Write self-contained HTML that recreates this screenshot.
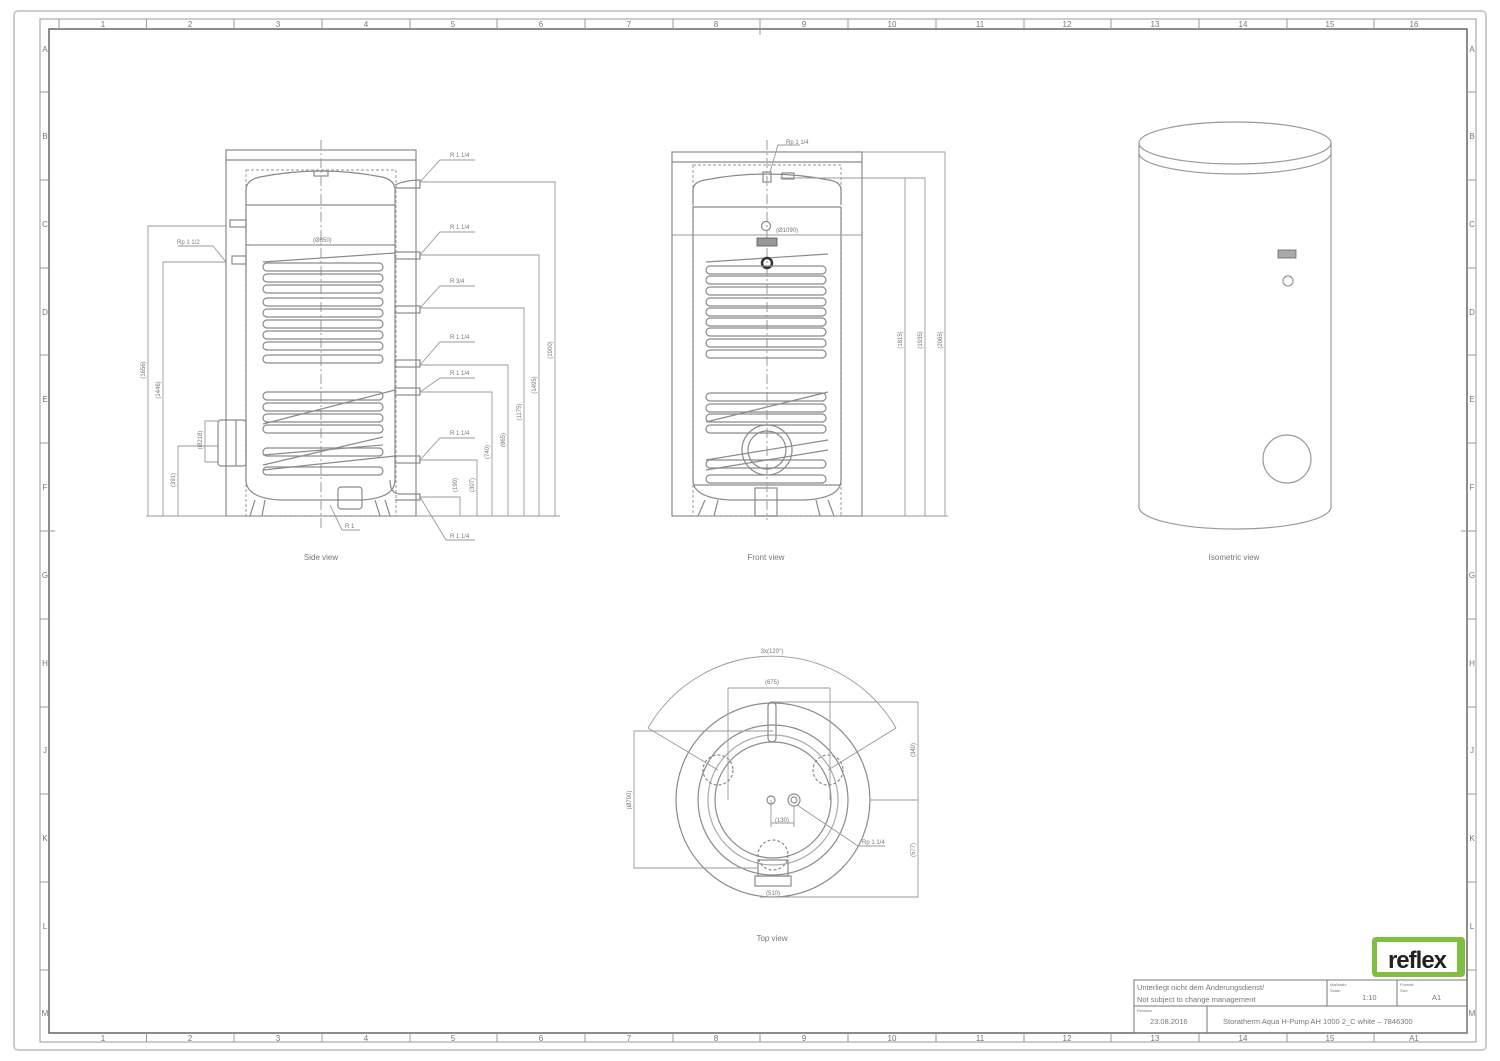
<!DOCTYPE html>
<html><head><meta charset="utf-8"><style>
html,body{margin:0;padding:0;background:#fff}
svg{display:block}
text{font-family:"Liberation Sans",sans-serif;fill:#777}
</style></head><body>
<svg width="1500" height="1061" viewBox="0 0 1500 1061" xmlns="http://www.w3.org/2000/svg">
<defs>
<g id="coil"><rect x="0" y="0" width="120" height="8" rx="4" fill="none" stroke="#8a8a8a" stroke-width="1.2"/></g>
</defs>
<!-- frame -->
<rect x="14" y="11" width="1472" height="1039" rx="4" fill="none" stroke="#ccc" stroke-width="2"/>
<rect x="40" y="19" width="1436" height="1023" fill="none" stroke="#999" stroke-width="1"/>
<rect x="49" y="29" width="1418" height="1004" fill="none" stroke="#666" stroke-width="1.5"/>
<g stroke="#999" stroke-width="1">
<line x1="59" y1="19" x2="59" y2="29"/><line x1="146.5" y1="19" x2="146.5" y2="29"/><line x1="234" y1="19" x2="234" y2="29"/><line x1="322" y1="19" x2="322" y2="29"/><line x1="410" y1="19" x2="410" y2="29"/><line x1="497" y1="19" x2="497" y2="29"/><line x1="585" y1="19" x2="585" y2="29"/><line x1="673" y1="19" x2="673" y2="29"/><line x1="760" y1="19" x2="760" y2="29"/><line x1="848" y1="19" x2="848" y2="29"/><line x1="936" y1="19" x2="936" y2="29"/><line x1="1024" y1="19" x2="1024" y2="29"/><line x1="1111" y1="19" x2="1111" y2="29"/><line x1="1199" y1="19" x2="1199" y2="29"/><line x1="1287" y1="19" x2="1287" y2="29"/><line x1="1374" y1="19" x2="1374" y2="29"/>
<line x1="146.5" y1="1033" x2="146.5" y2="1042"/><line x1="234" y1="1033" x2="234" y2="1042"/><line x1="322" y1="1033" x2="322" y2="1042"/><line x1="410" y1="1033" x2="410" y2="1042"/><line x1="497" y1="1033" x2="497" y2="1042"/><line x1="585" y1="1033" x2="585" y2="1042"/><line x1="673" y1="1033" x2="673" y2="1042"/><line x1="760" y1="1033" x2="760" y2="1042"/><line x1="848" y1="1033" x2="848" y2="1042"/><line x1="936" y1="1033" x2="936" y2="1042"/><line x1="1024" y1="1033" x2="1024" y2="1042"/><line x1="1111" y1="1033" x2="1111" y2="1042"/><line x1="1199" y1="1033" x2="1199" y2="1042"/><line x1="1287" y1="1033" x2="1287" y2="1042"/><line x1="1374" y1="1033" x2="1374" y2="1042"/>
<line x1="40" y1="92" x2="49" y2="92"/><line x1="40" y1="180" x2="49" y2="180"/><line x1="40" y1="268" x2="49" y2="268"/><line x1="40" y1="355" x2="49" y2="355"/><line x1="40" y1="443" x2="49" y2="443"/><line x1="40" y1="531" x2="55" y2="531"/><line x1="40" y1="619" x2="49" y2="619"/><line x1="40" y1="707" x2="49" y2="707"/><line x1="40" y1="794" x2="49" y2="794"/><line x1="40" y1="882" x2="49" y2="882"/><line x1="40" y1="970" x2="49" y2="970"/>
<line x1="1467" y1="92" x2="1476" y2="92"/><line x1="1467" y1="180" x2="1476" y2="180"/><line x1="1467" y1="268" x2="1476" y2="268"/><line x1="1467" y1="355" x2="1476" y2="355"/><line x1="1467" y1="443" x2="1476" y2="443"/><line x1="1461" y1="531" x2="1476" y2="531"/><line x1="1467" y1="619" x2="1476" y2="619"/><line x1="1467" y1="707" x2="1476" y2="707"/><line x1="1467" y1="794" x2="1476" y2="794"/><line x1="1467" y1="882" x2="1476" y2="882"/><line x1="1467" y1="970" x2="1476" y2="970"/>
<line x1="760" y1="19" x2="760" y2="35"/>
</g>
<g font-size="8" text-anchor="middle">
<text x="103" y="27">1</text><text x="190" y="27">2</text><text x="278" y="27">3</text><text x="366" y="27">4</text><text x="453" y="27">5</text><text x="541" y="27">6</text><text x="629" y="27">7</text><text x="716" y="27">8</text><text x="804" y="27">9</text><text x="892" y="27">10</text><text x="980" y="27">11</text><text x="1067" y="27">12</text><text x="1155" y="27">13</text><text x="1243" y="27">14</text><text x="1330" y="27">15</text><text x="1414" y="27">16</text>
<text x="103" y="1041">1</text><text x="190" y="1041">2</text><text x="278" y="1041">3</text><text x="366" y="1041">4</text><text x="453" y="1041">5</text><text x="541" y="1041">6</text><text x="629" y="1041">7</text><text x="716" y="1041">8</text><text x="804" y="1041">9</text><text x="892" y="1041">10</text><text x="980" y="1041">11</text><text x="1067" y="1041">12</text><text x="1155" y="1041">13</text><text x="1243" y="1041">14</text><text x="1330" y="1041">15</text><text x="1414" y="1041">A1</text>
<text x="45" y="52">A</text><text x="45" y="139">B</text><text x="45" y="227">C</text><text x="45" y="315">D</text><text x="45" y="402">E</text><text x="45" y="490">F</text><text x="45" y="578">G</text><text x="45" y="666">H</text><text x="45" y="753">J</text><text x="45" y="841">K</text><text x="45" y="929">L</text><text x="45" y="1016">M</text>
<text x="1472" y="52">A</text><text x="1472" y="139">B</text><text x="1472" y="227">C</text><text x="1472" y="315">D</text><text x="1472" y="402">E</text><text x="1472" y="490">F</text><text x="1472" y="578">G</text><text x="1472" y="666">H</text><text x="1472" y="753">J</text><text x="1472" y="841">K</text><text x="1472" y="929">L</text><text x="1472" y="1016">M</text>
</g>

<!-- SIDE VIEW -->
<g fill="none" stroke="#8a8a8a" stroke-width="1.2">
<rect x="226" y="150" width="190" height="366"/>
<line x1="226" y1="160" x2="416" y2="160"/>
<rect x="246" y="170" width="150" height="346" stroke-dasharray="3,2" stroke="#aaa"/>
<path d="M246 205 L246 190 Q246 180 260 177 Q321 165 382 177 Q395 180 395 190 L395 205"/>
<line x1="246" y1="205" x2="395" y2="205"/>
<path d="M246 205 L246 480 Q246 498 280 500 L362 500 Q395 498 395 480 L395 205"/>
<line x1="246" y1="245" x2="395" y2="245"/>
<path d="M255 500 L250 516 M265 500 L262 516 M375 500 L380 516 M385 500 L390 516"/>
<rect x="338" y="487" width="24" height="22" rx="3"/>
<rect x="314" y="171" width="14" height="5"/>
<line x1="321" y1="140" x2="321" y2="530" stroke-dasharray="10,3,2,3" stroke="#aaa"/>
<rect x="230" y="220" width="16" height="7"/>
<rect x="232" y="256" width="14" height="8"/>
<rect x="218" y="420" width="28" height="46" rx="3"/>
<line x1="236" y1="420" x2="236" y2="466"/>
<path d="M395 185 Q405 180 420 180 L420 188 L395 188"/>
<rect x="395" y="252" width="25" height="7"/><rect x="395" y="306" width="25" height="7"/>
<rect x="395" y="360" width="25" height="7"/><rect x="395" y="388" width="25" height="7"/>
<rect x="395" y="456" width="25" height="7"/>
<path d="M390 480 Q390 494 400 494 L420 494 L420 500 L395 500"/>
<!-- coils -->
<path d="M263 262 L395 253"/>
<path d="M263 424 L395 390"/>
<path d="M263 470 L395 456"/>
<path d="M263 455 L383 445 M263 465 L383 437"/>
</g>
<g>
<use href="#coil" x="263" y="263"/><use href="#coil" x="263" y="274"/><use href="#coil" x="263" y="285"/><use href="#coil" x="263" y="298"/><use href="#coil" x="263" y="309"/><use href="#coil" x="263" y="320"/><use href="#coil" x="263" y="331"/><use href="#coil" x="263" y="342"/><use href="#coil" x="263" y="355"/>
<use href="#coil" x="263" y="392"/><use href="#coil" x="263" y="403"/><use href="#coil" x="263" y="414"/><use href="#coil" x="263" y="425"/>
<use href="#coil" x="263" y="448"/><use href="#coil" x="263" y="467"/>
</g>
<g fill="none" stroke="#999" stroke-width="0.9">
<line x1="146" y1="516" x2="560" y2="516"/>
<path d="M420 182 L555 182 L555 516 M420 255 L539 255 L539 516 M420 308 L524 308 L524 516 M420 365 L508 365 L508 516 M420 392 L492 392 L492 516 M420 460 L477 460 L477 516 M420 497 L460 497 L460 516"/>
<path d="M226 226 L148 226 L148 516 M226 262 L163 262 L163 516 M218 446 L178 446 L178 516 M218 421 L205 421 L205 462 L218 462"/>
<path d="M420 182 L440 160 L475 160 M420 255 L440 232 L475 232 M420 308 L440 286 L475 286 M420 365 L440 342 L475 342 M420 392 L440 378 L475 378 M420 460 L440 438 L475 438 M420 497 L446 540 L475 540 M330 505 L342 530 L360 530 M226 262 L213 246 L178 246"/>
<line x1="250" y1="245" x2="392" y2="245"/>
</g>
<g font-size="6" fill="#777">
<text x="450" y="157">R 1 1/4</text><text x="450" y="229">R 1 1/4</text><text x="450" y="283">R 3/4</text><text x="450" y="339">R 1 1/4</text><text x="450" y="375">R 1 1/4</text><text x="450" y="435">R 1 1/4</text><text x="450" y="538">R 1 1/4</text><text x="345" y="528">R 1</text><text x="177" y="244">Rp 1 1/2</text><text x="313" y="242">(Ø850)</text>
</g>
<g font-size="6" fill="#777">
<text transform="translate(552,350) rotate(-90)" text-anchor="middle">(1900)</text>
<text transform="translate(536,385) rotate(-90)" text-anchor="middle">(1495)</text>
<text transform="translate(521,412) rotate(-90)" text-anchor="middle">(1175)</text>
<text transform="translate(505,440) rotate(-90)" text-anchor="middle">(865)</text>
<text transform="translate(489,452) rotate(-90)" text-anchor="middle">(740)</text>
<text transform="translate(474,485) rotate(-90)" text-anchor="middle">(307)</text>
<text transform="translate(457,485) rotate(-90)" text-anchor="middle">(190)</text>
<text transform="translate(145,370) rotate(-90)" text-anchor="middle">(1656)</text>
<text transform="translate(160,390) rotate(-90)" text-anchor="middle">(1446)</text>
<text transform="translate(175,480) rotate(-90)" text-anchor="middle">(391)</text>
<text transform="translate(202,440) rotate(-90)" text-anchor="middle">(Ø218)</text>
</g>
<text x="321" y="560" font-size="8" text-anchor="middle">Side view</text>

<!-- FRONT VIEW -->
<g fill="none" stroke="#8a8a8a" stroke-width="1.2">
<rect x="672" y="152" width="190" height="364"/>
<line x1="672" y1="162" x2="862" y2="162"/>
<rect x="693" y="165" width="148" height="351" stroke-dasharray="3,2" stroke="#aaa"/>
<path d="M693 205 L693 190 Q693 182 705 180 Q767 168 829 180 Q841 182 841 190 L841 205"/>
<line x1="693" y1="207" x2="841" y2="207"/>
<path d="M693 207 L693 480 Q693 498 730 500 L805 500 Q841 498 841 480 L841 207"/>
<line x1="693" y1="485" x2="841" y2="485"/>
<path d="M705 500 L698 516 M718 500 L714 516 M816 500 L820 516 M828 500 L834 516"/>
<rect x="755" y="488" width="22" height="28"/>
<rect x="763" y="172" width="8" height="10"/><rect x="782" y="173" width="12" height="6"/>
<line x1="767" y1="140" x2="767" y2="520" stroke-dasharray="10,3,2,3" stroke="#aaa"/>
<circle cx="766" cy="226" r="4.5"/>
<circle cx="767" cy="450" r="25"/><circle cx="767" cy="450" r="19"/>
<path d="M706 262 L828 254"/><path d="M706 422 L828 392"/><path d="M706 470 L828 450 M706 460 L828 440"/>
</g>
<circle cx="767" cy="263" r="5" fill="none" stroke="#333" stroke-width="2.5"/>
<rect x="757" y="238" width="20" height="8" fill="#999" stroke="#555" stroke-width="0.8"/>
<g>
<use href="#coil" x="706" y="266"/><use href="#coil" x="706" y="276"/><use href="#coil" x="706" y="287"/><use href="#coil" x="706" y="298"/><use href="#coil" x="706" y="308"/><use href="#coil" x="706" y="318"/><use href="#coil" x="706" y="328"/><use href="#coil" x="706" y="339"/><use href="#coil" x="706" y="350"/>
<use href="#coil" x="706" y="393"/><use href="#coil" x="706" y="404"/><use href="#coil" x="706" y="414"/><use href="#coil" x="706" y="425"/><use href="#coil" x="706" y="460"/><use href="#coil" x="706" y="475"/>
</g>
<g fill="none" stroke="#999" stroke-width="0.9">
<line x1="672" y1="235" x2="862" y2="235"/>
<path d="M862 152 L945 152 L945 516 M780 178 L925 178 L925 516 M780 178 L905 178 L905 516 M770 172 L778 145 L800 145"/>
<line x1="862" y1="516" x2="948" y2="516"/>
</g>
<g font-size="6" fill="#777">
<text x="786" y="144">Rp 1 1/4</text><text x="776" y="232">(Ø1090)</text>
<text transform="translate(902,340) rotate(-90)" text-anchor="middle">(1815)</text>
<text transform="translate(922,340) rotate(-90)" text-anchor="middle">(1935)</text>
<text transform="translate(942,340) rotate(-90)" text-anchor="middle">(2065)</text>
</g>
<text x="766" y="560" font-size="8" text-anchor="middle">Front view</text>

<!-- ISOMETRIC -->
<g fill="none" stroke="#999" stroke-width="1.2">
<ellipse cx="1235" cy="143" rx="96" ry="21"/>
<path d="M1139 143 L1139 153 A96 21 0 0 0 1331 153 L1331 143"/>
<path d="M1139 153 L1139 507 A96 22 0 0 0 1331 507 L1331 153"/>
<circle cx="1288" cy="281" r="5"/>
<circle cx="1287" cy="459" r="24"/>
</g>
<rect x="1278" y="250" width="18" height="8" fill="#aaa" stroke="#666" stroke-width="0.8"/>
<text x="1234" y="560" font-size="8" text-anchor="middle">Isometric view</text>

<!-- TOP VIEW -->
<g fill="none" stroke="#8a8a8a" stroke-width="1.2">
<circle cx="773" cy="800" r="97"/>
<circle cx="773" cy="800" r="75"/>
<circle cx="773" cy="800" r="65" stroke="#aaa"/>
<circle cx="773" cy="800" r="58"/>
<rect x="768" y="702" width="8" height="40" rx="4"/>
<circle cx="718" cy="770" r="15" stroke-dasharray="3,2"/>
<circle cx="828" cy="770" r="15" stroke-dasharray="3,2"/>
<circle cx="773" cy="855" r="15" stroke-dasharray="3,2"/>
<rect x="758" y="860" width="30" height="16"/>
<rect x="755" y="876" width="36" height="10"/>
<circle cx="771" cy="800" r="4"/>
<circle cx="794" cy="800" r="6"/><circle cx="794" cy="800" r="3"/>
</g>
<g fill="none" stroke="#999" stroke-width="0.9">
<path d="M648 728 A143 143 0 0 1 896 728"/>
<path d="M648 728 L718 770 M896 728 L828 770"/>
<line x1="728" y1="688" x2="830" y2="688"/>
<line x1="728" y1="688" x2="728" y2="800"/><line x1="830" y1="688" x2="830" y2="800"/>
<path d="M773 702 L918 702 L918 897 L760 897 M870 800 L918 800 M773 731 L634 731 L634 868 L758 868"/>
<path d="M771 800 L771 827 M794 806 L794 827 M771 823 L794 823 M797 805 L858 846 L885 846"/>
</g>
<g font-size="6" fill="#777">
<text x="772" y="653" text-anchor="middle">3x(120°)</text>
<text x="772" y="684" text-anchor="middle">(675)</text>
<text x="782" y="822" text-anchor="middle">(130)</text>
<text x="862" y="844">Rp 1 1/4</text>
<text x="773" y="895" text-anchor="middle">(510)</text>
<text transform="translate(631,800) rotate(-90)" text-anchor="middle">(Ø790)</text>
<text transform="translate(915,750) rotate(-90)" text-anchor="middle">(340)</text>
<text transform="translate(915,850) rotate(-90)" text-anchor="middle">(577)</text>
</g>
<text x="772" y="941" font-size="8" text-anchor="middle">Top view</text>

<!-- LOGO -->
<rect x="1372" y="937" width="93" height="40" rx="4" fill="#7fbf3f"/>
<rect x="1377" y="942" width="80" height="30" fill="#fff"/>
<text x="1417" y="968" font-size="24" font-weight="bold" text-anchor="middle" style="fill:#222;letter-spacing:-1px">reflex</text>

<!-- TITLE BLOCK -->
<g fill="none" stroke="#777" stroke-width="1">
<rect x="1134" y="980" width="333" height="53"/>
<line x1="1134" y1="1006" x2="1467" y2="1006"/>
<line x1="1327" y1="980" x2="1327" y2="1006"/><line x1="1397" y1="980" x2="1397" y2="1006"/>
<line x1="1207" y1="1006" x2="1207" y2="1033"/>
</g>
<g font-size="7.5" fill="#666">
<text x="1137" y="990">Unterliegt nicht dem Änderungsdienst/</text>
<text x="1137" y="1002">Not subject to change management</text>
<text x="1330" y="986" font-size="4">Maßstab/</text><text x="1330" y="992" font-size="4">Scale</text>
<text x="1362" y="1000">1:10</text>
<text x="1400" y="986" font-size="4">Format/</text><text x="1400" y="992" font-size="4">Size</text>
<text x="1432" y="1000">A1</text>
<text x="1137" y="1012" font-size="4">Revision</text>
<text x="1150" y="1024">23.08.2016</text>
<text x="1223" y="1024">Storatherm Aqua H-Pump AH 1000 2_C white – 7846300</text>
</g>
</svg>
</body></html>
